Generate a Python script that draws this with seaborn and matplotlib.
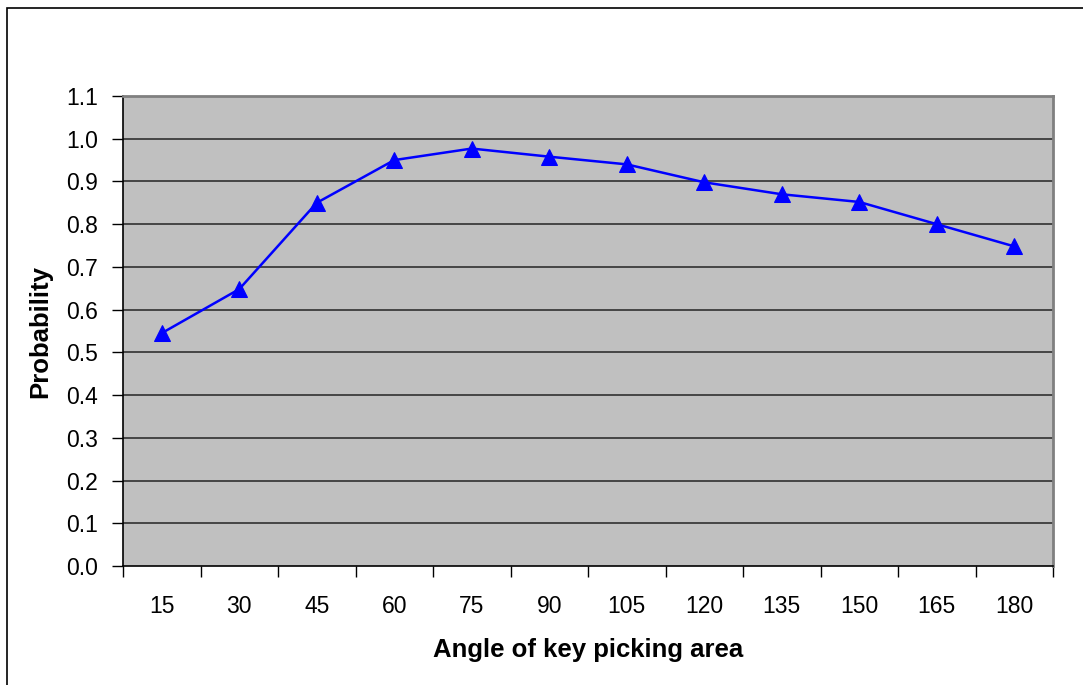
import matplotlib
matplotlib.use("Agg")
import matplotlib.pyplot as plt
import matplotlib.patches as patches
import numpy as np
import pandas as pd
import seaborn as sns

# data
angles = ['15', '30', '45', '60', '75', '90', '105', '120', '135', '150', '165', '180']
probability = [0.545, 0.648, 0.850, 0.950, 0.977, 0.958, 0.940, 0.898, 0.870, 0.852, 0.800, 0.748]
y_ticks = [0.0, 0.1, 0.2, 0.3, 0.4, 0.5, 0.6, 0.7, 0.8, 0.9, 1.0, 1.1]

df = pd.DataFrame({'Angle': angles, 'Probability': probability})

sns.set_style('white')
plt.rcParams['font.family'] = ['Liberation Sans', 'DejaVu Sans']
plt.rcParams['text.color'] = 'black'
plt.rcParams['axes.labelcolor'] = 'black'
plt.rcParams['xtick.color'] = 'black'
plt.rcParams['ytick.color'] = 'black'

fig = plt.figure(figsize=(10.83, 6.85), dpi=100)
ax = fig.add_axes([123 / 1083, 1 - 566 / 685, 930 / 1083, 470 / 685])
ax.set_facecolor('#C0C0C0')

# outer chart frame (Excel style)
fig.patches.append(patches.Rectangle((7 / 1083, -0.1), 1.2, 1.1 - 8 / 685,
                                     transform=fig.transFigure, fill=False,
                                     edgecolor='black', linewidth=1.2, clip_on=False))

sns.lineplot(data=df, x='Angle', y='Probability', sort=False, ax=ax,
             color='#0000FF', linewidth=1.8, marker='^', markersize=11,
             markeredgecolor='#0000FF', markerfacecolor='#0000FF')

n = len(angles)
ax.set_xlim(-0.5, n - 0.5)
ax.set_ylim(0, 1.1)

# gridlines
ax.set_yticks(y_ticks)
ax.set_yticklabels([f'{v:.1f}' for v in y_ticks])
for v in y_ticks[1:]:
    ax.axhline(v, color='#303030', linewidth=1.2, zorder=1)

# category boundaries as tick marks, labels centred under categories
ax.set_xticks(np.arange(n + 1) - 0.5)
ax.set_xticklabels([])
ax.set_xticks(np.arange(n), minor=True)
ax.set_xticklabels(angles, minor=True)
ax.tick_params(axis='x', which='major', direction='out', length=8, width=1, color='black', bottom=True)
ax.tick_params(axis='x', which='minor', length=0, pad=21, labelsize=16.5, bottom=True)
ax.tick_params(axis='y', direction='out', length=8, width=1, color='black', pad=10, labelsize=16.5, left=True)

for side in ['left', 'bottom']:
    ax.spines[side].set_color('black')
    ax.spines[side].set_linewidth(1.2)
for side in ['top', 'right']:
    ax.spines[side].set_color('#808080')
    ax.spines[side].set_linewidth(2)

ax.set_xlabel('Angle of key picking area', fontsize=18.5, fontweight='bold', labelpad=14)
ax.set_ylabel('Probability', fontsize=18.5, fontweight='bold', labelpad=10)

fig.savefig('out.png', dpi=100)
